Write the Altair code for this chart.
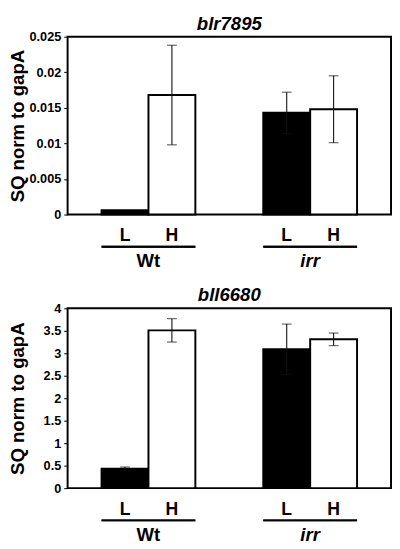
import altair as alt
import pandas as pd

FONT = "Liberation Sans"

groups = ["Wt", "Wt", "irr", "irr"]
conds = ["L", "H", "L", "H"]

blr_title = "blr7895"
blr_vals = [0.0006, 0.0168, 0.0143, 0.0148]
blr_errs = [0.0, 0.0070, 0.0029, 0.0047]
blr_ticks = [0, 0.005, 0.01, 0.015, 0.02, 0.025]

bll_title = "bll6680"
bll_vals = [0.43, 3.51, 3.09, 3.31]
bll_errs = [0.04, 0.26, 0.56, 0.14]
bll_ticks = [0, 0.5, 1, 1.5, 2, 2.5, 3, 3.5, 4]


def panel(title, vals, errs, ticks, ymax, W, H):
    df = pd.DataFrame({"group": groups, "cond": conds, "value": vals, "err": errs})
    df["lo"] = df["value"] - df["err"]
    df["hi"] = df["value"] + df["err"]

    x = alt.X("group:N", scale=alt.Scale(domain=["Wt", "irr"], paddingInner=0.42,
                                         paddingOuter=0.21), axis=None)
    xo = alt.XOffset("cond:N", scale=alt.Scale(domain=["L", "H"], paddingInner=0,
                                               paddingOuter=0))
    yscale = alt.Scale(domain=[0, ymax], nice=False, zero=True)
    yaxis = alt.Axis(values=ticks, format="~g", title="SQ norm to gapA",
                     grid=False, domain=False, tickColor="black", tickSize=4,
                     tickWidth=1, labelFont=FONT, labelFontWeight="bold",
                     labelFontSize=13, labelColor="black", labelPadding=3,
                     labelOverlap=False, labelBound=False, labelFlush=False,
                     titleFont=FONT, titleFontWeight="bold", titleFontSize=19,
                     titleColor="black", titlePadding=1, minExtent=40)

    def Y(field):
        return alt.Y(field, scale=yscale, axis=yaxis)

    base = alt.Chart(df)
    bars = base.mark_bar(stroke="black", strokeWidth=2).encode(
        x=x, xOffset=xo, y=Y("value:Q"),
        fill=alt.Fill("cond:N", scale=alt.Scale(domain=["L", "H"], range=["black", "white"]),
                      legend=None))
    eb = base.transform_filter("datum.err > 0")
    rules = eb.mark_rule(color="#111111", strokeWidth=1.1).encode(
        x=x, xOffset=xo, y=Y("lo:Q"), y2="hi:Q")
    cap_hi = eb.mark_tick(color="#111111", thickness=1.1, size=10).encode(
        x=x, xOffset=xo, y=Y("hi:Q"))
    cap_lo = eb.mark_tick(color="#111111", thickness=1.1, size=10).encode(
        x=x, xOffset=xo, y=Y("lo:Q"))
    cond_labels = base.mark_text(font=FONT, fontWeight="bold", fontSize=18,
                                 baseline="alphabetic", color="black").encode(
        x=x, xOffset=xo, text="cond:N", y=alt.value(H + 27))
    underline = base.mark_rect(color="black").encode(
        x=x, y=alt.value(H + 32), y2=alt.value(H + 34))
    first = base.transform_filter("datum.cond == 'L'")
    grp_wt = first.transform_filter("datum.group == 'Wt'").mark_text(
        font=FONT, fontWeight="bold", fontSize=19, baseline="alphabetic",
        color="black").encode(x=x, text="group:N", y=alt.value(H + 54))
    grp_irr = first.transform_filter("datum.group == 'irr'").mark_text(
        font=FONT, fontWeight="bold", fontStyle="italic", fontSize=19,
        baseline="alphabetic", color="black").encode(x=x, text="group:N", y=alt.value(H + 54))
    ttl = alt.Chart(pd.DataFrame({"t": [title]})).mark_text(
        font=FONT, fontWeight="bold", fontStyle="italic", fontSize=19,
        baseline="alphabetic", align="center", color="black").encode(
        text="t:N", x=alt.value(W / 2), y=alt.value(-7))
    return alt.layer(bars, rules, cap_hi, cap_lo, cond_labels, underline, grp_wt,
                     grp_irr, ttl).properties(width=W, height=H)


top = panel(blr_title, blr_vals, blr_errs, blr_ticks, 0.025, 331, 182)
bottom = panel(bll_title, bll_vals, bll_errs, bll_ticks, 4, 331, 184)

chart = alt.vconcat(top, bottom, spacing=14).properties(padding=0).configure_view(
    stroke="black", strokeWidth=2).configure_axis(labelOverlap=False)

chart.save("out.html", embed_options={"renderer": "svg", "actions": False})
